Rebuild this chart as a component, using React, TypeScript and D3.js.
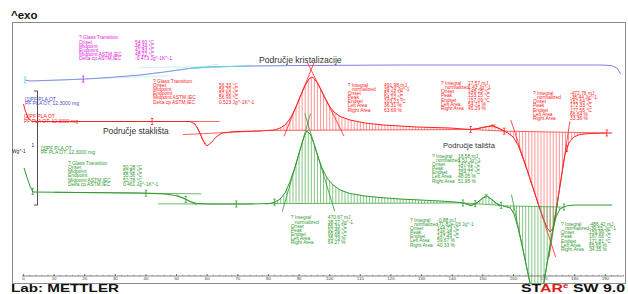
import React from 'react';
import * as d3 from 'd3';

const W = 628;
const H = 294;

// Temperature (°C) vs. heat flow (W/g, curves displayed with offsets)
const curveTop: [number, number][] = [
  [0.5, 0.5], [2.1, 0.49], [12, 0.5], [20, 0.51], [28, 0.525], [38, 0.55], [46, 0.58],
  [54, 0.615], [61, 0.63], [74, 0.64], [90, 0.645], [123, 0.65], [155.6, 0.65], [188, 0.65],
  [192, 0.645], [193.8, 0.62], [195, 0.56],
];

const curveRed: [number, number][] = [
  [0, 0.26], [0.5, 0.2], [1.5, 0.12], [2.8, 0.085], [25, 0.085], [54.4, 0.085], [56, 0.06],
  [57.3, -0.01], [58.6, -0.1], [59.9, -0.16], [61.2, -0.13], [62.9, -0.07], [64.8, -0.03],
  [69, -0.015], [77.2, -0.01], [82, 0.0], [83.8, 0.02], [85.4, 0.05], [87, 0.11], [88.7, 0.21],
  [90.3, 0.33], [91.9, 0.44], [93.2, 0.51], [94.2, 0.53], [94.9, 0.515], [96.2, 0.46],
  [97.5, 0.38], [98.8, 0.3], [100.1, 0.23], [101.4, 0.18], [103.4, 0.135], [106.6, 0.1],
  [111.5, 0.07], [117.4, 0.05], [128.5, 0.03], [139.3, 0.02], [146, 0.005], [148.4, 0.015],
  [150.7, 0.03], [153, 0.04], [155, 0.02], [156.6, -0.005], [158.2, -0.03], [159.9, -0.07],
  [161.5, -0.15], [163.1, -0.28], [164.8, -0.43], [166.4, -0.58], [168, -0.73], [169.7, -0.88],
  [171, -0.98], [172, -1.02], [172.9, -0.98], [173.9, -0.82], [174.9, -0.62], [175.9, -0.42],
  [176.8, -0.25], [178.1, -0.13], [179.7, -0.07], [181.7, -0.045], [185, -0.035], [190, -0.03],
  [192.2, -0.03],
];

const curveGreen: [number, number][] = [
  [0.2, -0.38], [1.1, -0.47], [2.1, -0.56], [3.1, -0.62], [18.5, -0.625], [38, -0.63],
  [46.2, -0.64], [49.5, -0.655], [52.1, -0.68], [54.4, -0.715], [56.7, -0.735], [60.9, -0.74],
  [74, -0.74], [80.5, -0.735], [82.1, -0.72], [83.8, -0.69], [85.4, -0.63], [87, -0.52],
  [88.7, -0.37], [90.3, -0.2], [91.6, -0.07], [92.5, -0.01], [93.6, -0.04], [94.9, -0.14],
  [96.2, -0.27], [97.5, -0.38], [99.1, -0.48], [101.1, -0.55], [103.4, -0.6], [106.6, -0.635],
  [111.5, -0.66], [116.4, -0.675], [123, -0.69], [129.5, -0.7], [136, -0.71], [141, -0.72],
  [143.5, -0.73], [145.2, -0.745], [146.1, -0.755], [147.1, -0.745], [148.4, -0.72],
  [150, -0.68], [151.4, -0.665], [152.7, -0.69], [154.3, -0.73], [155.6, -0.75], [157.2, -0.765],
  [159, -0.78], [160.2, -0.84], [161.5, -0.98], [162.8, -1.15], [164.1, -1.34], [165.4, -1.53],
  [166.7, -1.7], [167.7, -1.78], [168.7, -1.72], [170, -1.52], [171.3, -1.28], [172.6, -1.04],
  [173.9, -0.87], [175.2, -0.79], [177.2, -0.76], [180, -0.75], [185, -0.75], [192.2, -0.75],
];

// integration ranges [start, end, sign] (sign +1 exo, -1 endo)
const redPeaks: [number, number, number][] = [[80, 146, 1], [146, 157, 1], [157, 190.5, -1]];
const greenPeaks: [number, number, number][] = [[79, 143.5, 1], [143.5, 147.5, -1], [147.5, 156, 1], [156.5, 176.5, -1]];

const redMarkers = [42, 146, 157, 177.5, 190.5];
const greenMarkers = [3, 40, 53, 69.5, 82, 143.5, 147.5, 156, 176.5];
const topMarkers = [0.5, 19.5];

const tickLabels = ['0', '10', '20', '30', '40', '50', '60', '70', '80', '90', '100', '110', '120', '130', '140', '150', '160', '170', '180', '190'];

const topGlass: [string, string][] = [
  ['? Glass Transition', ''], ['Onset', '54.60 °C'], ['Midpoint', '48.34 °C'], ['Endpoint', '41.83 °C'],
  ['Midpoint ASTM,IEC', '48.22 °C'], ['Delta cp ASTM,IEC', '-0.473 Jg^-1K^-1'],
];
const redGlass: [string, string][] = [
  ['? Glass Transition', ''], ['Onset', '56.33 °C'], ['Midpoint', '56.70 °C'], ['Endpoint', '57.60 °C'],
  ['Midpoint ASTM,IEC', '56.99 °C'], ['Delta cp ASTM,IEC', '0.523 Jg^-1K^-1'],
];
const redInt1: [string, string][] = [
  ['? Integral', '491.98 mJ'], ['   normalized', '39.74 Jg^-1'], ['Onset', '87.26 °C'], ['Peak', '94.12 °C'],
  ['Endset', '103.23 °C'], ['Left Area', '36.31 %'], ['Right Area', '63.69 %'],
];
const redInt2: [string, string][] = [
  ['? Integral', '17.57 mJ'], ['   normalized', '1.43 Jg^-1'], ['Onset', '148.15 °C'], ['Peak', '153.15 °C'],
  ['Endset', '157.09 °C'], ['Left Area', '54.71 %'], ['Right Area', '45.29 %'],
];
const redInt3: [string, string][] = [
  ['? Integral', '-472.76 mJ'], ['   normalized', '-38.44 Jg^-1'], ['Onset', '162.64 °C'], ['Peak', '172.33 °C'],
  ['Endset', '177.55 °C'], ['Left Area', '66.64 %'], ['Right Area', '33.36 %'],
];
const greenGlass: [string, string][] = [
  ['? Glass Transition', ''], ['Onset', '50.28 °C'], ['Midpoint', '52.82 °C'], ['Endpoint', '55.36 °C'],
  ['Midpoint ASTM,IEC', '52.78 °C'], ['Delta cp ASTM,IEC', '0.461 Jg^-1K^-1'],
];
const greenInt1: [string, string][] = [
  ['? Integral', '470.67 mJ'], ['   normalized', '38.27 Jg^-1'], ['Onset', '86.33 °C'], ['Peak', '92.46 °C'],
  ['Endset', '99.68 °C'], ['Left Area', '35.73 %'], ['Right Area', '64.27 %'],
];
const greenInt2: [string, string][] = [
  ['? Integral', '-0.88 mJ'], ['   normalized', '-71.82e-03 Jg^-1'], ['Onset', '144.73 °C'], ['Peak', '146.48 °C'],
  ['Endset', '147.49 °C'], ['Left Area', '59.67 %'], ['Right Area', '40.33 %'],
];
const greenInt3: [string, string][] = [
  ['? Integral', '18.58 mJ'], ['   normalized', '1.51 Jg^-1'], ['Onset', '147.61 °C'], ['Peak', '151.15 °C'],
  ['Endset', '154.77 °C'], ['Left Area', '48.05 %'], ['Right Area', '51.95 %'],
];
const greenInt4: [string, string][] = [
  ['? Integral', '-486.42 mJ'], ['   normalized', '-39.55 Jg^-1'], ['Onset', '159.99 °C'], ['Peak', '167.66 °C'],
  ['Endset', '171.81 °C'], ['Left Area', '65.65 %'], ['Right Area', '34.35 %'],
];

const x = d3.scaleLinear().domain([0, 190]).range([23.5, 605.3]);
const y = d3.scaleLinear().domain([-1.54, 1.08]).range([284, 22]);

const FONT = 'Liberation Sans, Arial, sans-serif';
const RED = '#ff2222';
const GREEN = '#2f9a2f';
const PURPLE = '#8a7ce2';
const CYAN = '#66d6d6';
const MAGENTA = '#e020e0';

function interp(data: [number, number][], T: number): number {
  if (T <= data[0][0]) return data[0][1];
  for (let i = 0; i < data.length - 1; i++) {
    const [t0, v0] = data[i];
    const [t1, v1] = data[i + 1];
    if (T >= t0 && T <= t1) return v0 + ((v1 - v0) * (T - t0)) / (t1 - t0);
  }
  return data[data.length - 1][1];
}

const line = d3.line<[number, number]>().x(d => x(d[0])).y(d => y(d[1]));

function steepest(data: [number, number][], a: number, b: number, sign: number) {
  let best = { t: a, v: interp(data, a), s: 0 };
  let bestVal = -Infinity;
  for (let i = 0; i < data.length - 1; i++) {
    const [t0, v0] = data[i];
    const [t1, v1] = data[i + 1];
    if (t0 < a || t1 > b) continue;
    const s = (v1 - v0) / (t1 - t0);
    if (sign * s > bestVal) {
      bestVal = sign * s;
      best = { t: (t0 + t1) / 2, v: (v0 + v1) / 2, s };
    }
  }
  return best;
}

function peakGeometry(data: [number, number][], a: number, b: number, sign: number) {
  const va = interp(data, a);
  const vb = interp(data, b);
  const sb = (vb - va) / (b - a);
  const base = (T: number) => va + sb * (T - a);
  let tp = a;
  let best = -Infinity;
  data.forEach(([t, v]) => {
    if (t > a && t < b && sign * (v - base(t)) > best) {
      best = sign * (v - base(t));
      tp = t;
    }
  });
  const L = steepest(data, a, tp, sign);
  const R = steepest(data, tp, b, -sign);
  const tOn = (va - sb * a - (L.v - L.s * L.t)) / (L.s - sb);
  const tEnd = (va - sb * a - (R.v - R.s * R.t)) / (R.s - sb);
  const tApex = (R.v - R.s * R.t - (L.v - L.s * L.t)) / (L.s - R.s);
  const lf = (T: number) => L.v + L.s * (T - L.t);
  const rf = (T: number) => R.v + R.s * (T - R.t);
  const ext = 0.1;
  const lStart = tOn - (tApex - tOn) * ext;
  const lEnd = tApex + (tApex - tOn) * 0.12;
  const rStart = tApex - (tEnd - tApex) * 0.12;
  const rEnd = tEnd + (tEnd - tApex) * ext;
  const hatch: [number, number, number][] = [];
  for (let t = Math.ceil(a); t <= b; t += 1) {
    const v = interp(data, t);
    if (sign * (v - base(t)) > 0.004) hatch.push([t, v, base(t)]);
  }
  return {
    baseline: [[a, va], [b, vb]] as [number, number][],
    left: [[lStart, lf(lStart)], [lEnd, lf(lEnd)]] as [number, number][],
    right: [[rStart, rf(rStart)], [rEnd, rf(rEnd)]] as [number, number][],
    hatch,
  };
}

function lineThrough(data: [number, number][], t1: number, t2: number, from: number, to: number): [number, number][] {
  const v1 = interp(data, t1);
  const v2 = interp(data, t2);
  const s = (v2 - v1) / (t2 - t1);
  return [[from, v1 + s * (from - t1)], [to, v1 + s * (to - t1)]];
}

function glassLines(data: [number, number][], pre: [number, number, number], post: [number, number, number], win: [number, number], sign: number, span: number) {
  const st = steepest(data, win[0], win[1], sign);
  const dt = span / Math.abs(st.s || 1e-6);
  return [
    lineThrough(data, pre[0], pre[1], pre[0], pre[2]),
    lineThrough(data, post[0], post[1], post[2], post[1]),
    [[st.t - dt, st.v - st.s * dt], [st.t + dt, st.v + st.s * dt]] as [number, number][],
  ];
}

function Block({ rows, lx, vx, y0, color }: { rows: [string, string][]; lx: number; vx: number; y0: number; color: string }) {
  return (
    <g fill={color} fontFamily={FONT} fontSize={4.9}>
      {rows.map((r, i) => (
        <g key={i}>
          <text x={lx} y={y0 + i * 4.15} xmlSpace="preserve" style={{ whiteSpace: 'pre' }}>{r[0]}</text>
          <text x={vx} y={y0 + i * 4.15}>{r[1]}</text>
        </g>
      ))}
    </g>
  );
}

function Marker({ t, data, color }: { t: number; data: [number, number][]; color: string }) {
  const px = x(t);
  const py = y(interp(data, t));
  return (
    <g stroke={color} strokeWidth={0.8}>
      <line x1={px} x2={px} y1={py - 3} y2={py + 3} />
      <line x1={px - 1.2} x2={px + 1.2} y1={py - 3} y2={py - 3} />
      <line x1={px - 1.2} x2={px + 1.2} y1={py + 3} y2={py + 3} />
    </g>
  );
}

function PeakMarks({ data, peaks, color, hatchColor }: { data: [number, number][]; peaks: [number, number, number][]; color: string; hatchColor: string }) {
  return (
    <g>
      {peaks.map((p, i) => {
        const g = peakGeometry(data, p[0], p[1], p[2]);
        return (
          <g key={i}>
            {g.hatch.map((h, j) => (
              <line key={j} x1={x(h[0])} x2={x(h[0])} y1={y(h[1])} y2={y(h[2])} stroke={hatchColor} strokeWidth={0.7} />
            ))}
            <path d={line(g.baseline) || ''} stroke={color} strokeWidth={0.7} fill="none" />
            <path d={line(g.left) || ''} stroke={color} strokeWidth={0.8} fill="none" />
            <path d={line(g.right) || ''} stroke={color} strokeWidth={0.8} fill="none" />
          </g>
        );
      })}
    </g>
  );
}

export default function App() {
  const topGl = glassLines(curveTop, [5, 20, 48], [70, 90, 38], [25, 60], 1, 0.06);
  const redGl = glassLines(curveRed, [10, 50, 64], [66, 78, 52], [55, 59.5], -1, 0.09);
  const greenGl = glassLines(curveGreen, [10, 40, 58], [60, 75, 44], [48, 57], -1, 0.05);
  const cyanPart = curveTop.filter(d => d[0] >= 50 && d[0] <= 74);
  const majorTicks = d3.range(0, 200, 10);
  const minorTicks = d3.range(0, 197, 2);
  return (
    <svg width={W} height={H} style={{ position: 'absolute', left: 0, top: 0, background: '#fff' }} fontFamily={FONT}>
      <defs>
        <clipPath id="plot">
          <rect x={12} y={22} width={614} height={262} />
        </clipPath>
      </defs>
      <rect x={0} y={0} width={W} height={H} fill="#fff" />
      <text x={11} y={19} fontSize={11.5} fontWeight="bold" fill="#111">^exo</text>
      <rect x={12.5} y={22.5} width={613} height={261} fill="none" stroke="#8a8a8a" strokeWidth={1} />

      {/* scale bar */}
      <g stroke="#222" strokeWidth={0.8}>
        <line x1={37.5} x2={37.5} y1={91} y2={205} />
        <line x1={34} x2={37.5} y1={91} y2={91} />
        <line x1={34} x2={37.5} y1={205} y2={205} />
      </g>
      <text x={12} y={153} fontSize={4.8} fill="#222">Wg^-1</text>
      <text x={31.5} y={147} fontSize={4.8} fill="#222">1</text>

      {/* x axis */}
      <g>
        <line x1={x(-0.5)} x2={x(196)} y1={276} y2={276} stroke="#666" strokeWidth={0.8} />
        {minorTicks.map(t => (
          <line key={t} x1={x(t)} x2={x(t)} y1={276} y2={274.8} stroke="#666" strokeWidth={0.6} />
        ))}
        {majorTicks.map((t, i) => (
          <g key={t}>
            <line x1={x(t)} x2={x(t)} y1={276} y2={274} stroke="#555" strokeWidth={0.7} />
            <text x={x(t)} y={280.3} fontSize={4.4} textAnchor="middle" fill="#444">{tickLabels[i]}</text>
          </g>
        ))}
      </g>

      <g clipPath="url(#plot)">
        {/* top curve */}
        <path d={line(curveTop) || ''} stroke={PURPLE} strokeWidth={1} fill="none" />
        <path d={line(cyanPart) || ''} stroke={CYAN} strokeWidth={1} fill="none" />
        {topGl.map((l, i) => (
          <path key={i} d={line(l) || ''} stroke={CYAN} strokeWidth={0.5} fill="none" opacity={0.7} />
        ))}
        {topMarkers.map(t => <Marker key={t} t={t} data={curveTop} color={t < 5 ? CYAN : MAGENTA} />)}

        {/* red curve */}
        <PeakMarks data={curveRed} peaks={redPeaks} color={RED} hatchColor="#ff6a6a" />
        {redGl.map((l, i) => (
          <path key={i} d={line(l) || ''} stroke={RED} strokeWidth={0.7} fill="none" />
        ))}
        <path d={line(curveRed) || ''} stroke={RED} strokeWidth={1} fill="none" />
        {redMarkers.map(t => <Marker key={t} t={t} data={curveRed} color={RED} />)}

        {/* green curve */}
        <PeakMarks data={curveGreen} peaks={greenPeaks} color={GREEN} hatchColor="#4fae4f" />
        {greenGl.map((l, i) => (
          <path key={i} d={line(l) || ''} stroke={GREEN} strokeWidth={0.7} fill="none" />
        ))}
        <path d={line(curveGreen) || ''} stroke={GREEN} strokeWidth={1} fill="none" />
        {greenMarkers.map(t => <Marker key={t} t={t} data={curveGreen} color={GREEN} />)}
      </g>

      {/* curve labels */}
      <g fontSize={5} fontFamily={FONT}>
        <text x={25} y={100.5} fill="#4a4ac8">[1]PF PLA OT</text>
        <text x={25} y={105} fill="#4a4ac8">PF PLA OT, 12.3000 mg</text>
        <text x={24} y={118} fill={RED}>[2]PF PLA OT</text>
        <text x={24} y={122.5} fill={RED}>PF PLA OT, 12.3000 mg</text>
        <text x={41} y={149.5} fill={GREEN}>[3]PF PLA OT</text>
        <text x={41} y={154} fill={GREEN}>PF PLA OT, 12.3000 mg</text>
      </g>

      {/* annotation blocks */}
      <Block rows={topGlass} lx={79} vx={135} y0={39.4} color={MAGENTA} />
      <Block rows={redGlass} lx={153} vx={219} y0={82.8} color={RED} />
      <Block rows={redInt1} lx={347.7} vx={384} y0={86.7} color={RED} />
      <Block rows={redInt2} lx={441} vx={468} y0={85} color={RED} />
      <Block rows={redInt3} lx={533} vx={570} y0={95} color={RED} />
      <Block rows={greenGlass} lx={68} vx={123} y0={165} color={GREEN} />
      <Block rows={greenInt3} lx={432} vx={458} y0={157.7} color={GREEN} />
      <Block rows={greenInt1} lx={290.7} vx={327.7} y0={219.4} color={GREEN} />
      <Block rows={greenInt2} lx={410} vx={437} y0={221.7} color={GREEN} />
      <Block rows={greenInt4} lx={561} vx={589} y0={226} color={GREEN} />

      {/* region titles */}
      <g fill="#333" fontFamily={FONT}>
        <text x={259} y={63} fontSize={8.6}>Područje kristalizacije</text>
        <text x={103} y={134} fontSize={8.4}>Područje staklišta</text>
        <text x={443} y={148} fontSize={7.6}>Područje tališta</text>
      </g>

      {/* footer */}
      <text x={11} y={292} fontSize={11.5} fontWeight="bold" fill="#111" textLength={108} lengthAdjust="spacingAndGlyphs">Lab: METTLER</text>
      <text x={521} y={292} fontSize={11.5} fontWeight="bold" fill="#111" textLength={104} lengthAdjust="spacingAndGlyphs">
        <tspan>ST</tspan>
        <tspan fill="#e01818">AR</tspan>
        <tspan fill="#e01818" fontSize={7} dy={-4}>e</tspan>
        <tspan dy={4}> SW 9.0</tspan>
      </text>
    </svg>
  );
}
